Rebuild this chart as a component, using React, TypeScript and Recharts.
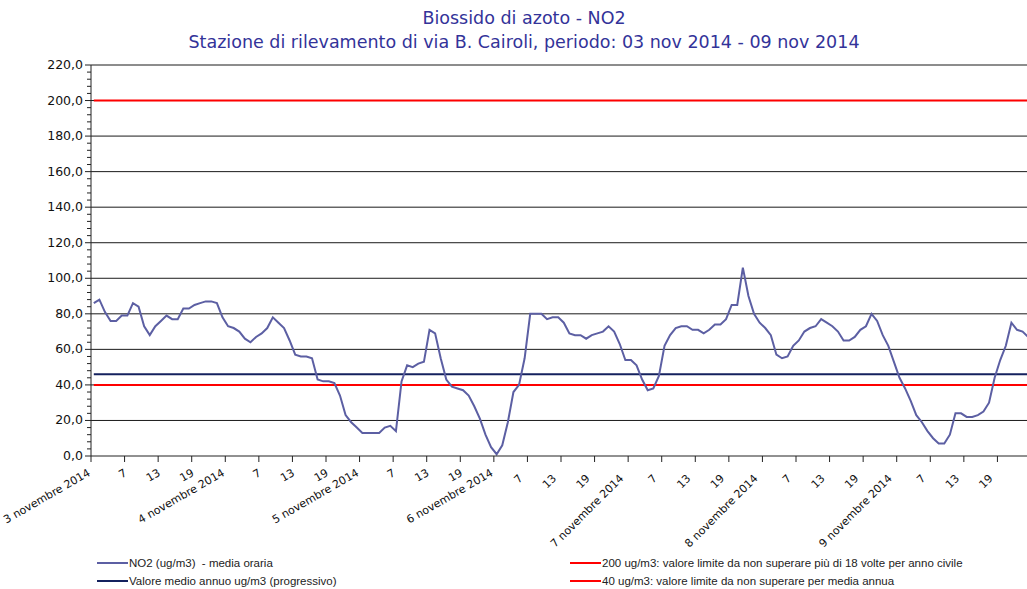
import { LineChart, Line, XAxis, YAxis, ReferenceLine } from "recharts";

const DAYS = [
  "3 novembre 2014",
  "4 novembre 2014",
  "5 novembre 2014",
  "6 novembre 2014",
  "7 novembre 2014",
  "8 novembre 2014",
  "9 novembre 2014",
];
const HOUR_LABELS = ["7", "13", "19"];

// NO2 hourly means (ug/m3), one array per day
const NO2_NOV3 = [86, 88, 81, 76, 76, 79, 79, 86, 84, 73, 68, 73, 76, 79, 77, 77, 83, 83, 85, 86, 87, 87, 86, 78];
const NO2_NOV4 = [73, 72, 70, 66, 64, 67, 69, 72, 78, 75, 72, 65, 57, 56, 56, 55, 43, 42, 42, 41, 34, 23, 19, 16];
const NO2_NOV5 = [13, 13, 13, 13, 16, 17, 14, 42, 51, 50, 52, 53, 71, 69, 55, 43, 39, 38, 37, 34, 28, 21, 12, 5];
const NO2_NOV6 = [1, 6, 19, 36, 40, 55, 80, 80, 80, 77, 78, 78, 75, 69, 68, 68, 66, 68, 69, 70, 73, 70, 63, 54];
const NO2_NOV7 = [54, 51, 43, 37, 38, 45, 62, 68, 72, 73, 73, 71, 71, 69, 71, 74, 74, 77, 85, 85, 106, 90, 80, 75];
const NO2_NOV8 = [72, 68, 57, 55, 56, 62, 65, 70, 72, 73, 77, 75, 73, 70, 65, 65, 67, 71, 73, 80, 76, 68, 62, 53];
const NO2_NOV9 = [44, 38, 31, 23, 19, 14, 10, 7, 7, 12, 24, 24, 22, 22, 23, 25, 30, 44, 54, 62, 75, 71, 70, 67];

const ANNUAL_MEAN = 46;
const LIMIT_HOURLY = 200;
const LIMIT_ANNUAL = 40;

const Y_MAJOR = [0, 20, 40, 60, 80, 100, 120, 140, 160, 180, 200, 220];

const NO2 = [...NO2_NOV3, ...NO2_NOV4, ...NO2_NOV5, ...NO2_NOV6, ...NO2_NOV7, ...NO2_NOV8, ...NO2_NOV9];
const data = NO2.map((v, i) => ({ t: i + 0.5, no2: v }));
const first = data[0].t;
const last = data[data.length - 1].t;

const xTicks = DAYS.flatMap((_, d) => [0, 6, 12, 18].map((h) => d * 24 + h));
const yTicks: number[] = [];
for (let v = 0; v <= 220; v += 4) yTicks.push(v);

const LINE_COLOR = "#5c5fa3";
const MEAN_COLOR = "#14215e";
const RED = "#ff0000";
const AXIS_FONT = "DejaVu Sans";

function xLabel(t: number) {
  const h = t % 24;
  return h === 0 ? DAYS[t / 24] : HOUR_LABELS[h / 6 - 1];
}

function XTick(props: any) {
  const { x, y, payload } = props;
  const t = payload.value;
  // the source image has the first half of labels flatter than the rest
  const flat = t < 75;
  const isDay = t % 24 === 0;
  const tx = x + (flat ? (isDay ? 0 : 3) : -4);
  const ty = y + (flat ? 19 : 23);
  return (
    <g>
      <line x1={x} x2={x} y1={y} y2={y + 6} stroke="#222" />
      <text
        x={tx}
        y={ty}
        transform={`rotate(${flat ? -30 : -45}, ${tx}, ${ty})`}
        textAnchor="end"
        fontSize={11}
        fontFamily={AXIS_FONT}
        fill="#111"
      >
        {xLabel(t)}
      </text>
    </g>
  );
}

function YTick(props: any) {
  const { x, y, payload } = props;
  const major = payload.value % 20 === 0;
  return (
    <g>
      <line x1={x - (major ? 6 : 4)} x2={x} y1={y} y2={y} stroke="#222" />
      {major && (
        <text x={x - 8} y={y + 4} textAnchor="end" fontSize={12.5} fontFamily={AXIS_FONT} fill="#111">
          {payload.value.toFixed(1).replace(".", ",")}
        </text>
      )}
    </g>
  );
}

const legendItems = [
  { left: 97, top: 556, color: LINE_COLOR, text: "NO2 (ug/m3)  - media oraria" },
  { left: 97, top: 574, color: MEAN_COLOR, text: "Valore medio annuo ug/m3 (progressivo)" },
  { left: 570, top: 556, color: RED, text: "200 ug/m3: valore limite da non superare più di 18 volte per anno civile" },
  { left: 570, top: 574, color: RED, text: "40 ug/m3: valore limite da non superare per media annua" },
];

export default function App() {
  return (
    <div
      style={{
        position: "absolute",
        left: 0,
        top: 0,
        width: 1027,
        height: 589,
        overflow: "hidden",
        background: "#fff",
      }}
    >
      <div
        style={{
          position: "absolute",
          left: 0,
          top: 6,
          width: 1048,
          textAlign: "center",
          fontFamily: "DejaVu Sans",
          fontSize: 17.5,
          lineHeight: "24px",
          color: "#333399",
        }}
      >
        <div>Biossido di azoto - NO2</div>
        <div>Stazione di rilevamento di via B. Cairoli, periodo: 03 nov 2014 - 09 nov 2014</div>
      </div>

      <LineChart width={1031} height={589} data={data} margin={{ top: 65, right: 0, bottom: 0, left: 0 }}>
        <XAxis
          dataKey="t"
          type="number"
          domain={[0, 168]}
          ticks={xTicks}
          interval={0}
          height={133}
          tickLine={false}
          tickSize={0}
          tickMargin={0}
          tick={<XTick />}
          axisLine={{ stroke: "#222" }}
        />
        <YAxis
          type="number"
          domain={[0, 220]}
          ticks={yTicks}
          interval={0}
          width={91}
          tickLine={false}
          tickSize={0}
          tickMargin={0}
          tick={<YTick />}
          axisLine={{ stroke: "#222" }}
        />
        {Y_MAJOR.filter((v) => v > 0).map((v) => (
          <ReferenceLine key={v} y={v} stroke="#1a1a1a" strokeWidth={1} />
        ))}
        <ReferenceLine
          segment={[
            { x: first, y: LIMIT_HOURLY },
            { x: last, y: LIMIT_HOURLY },
          ]}
          stroke={RED}
          strokeWidth={2}
        />
        <ReferenceLine
          segment={[
            { x: first, y: LIMIT_ANNUAL },
            { x: last, y: LIMIT_ANNUAL },
          ]}
          stroke={RED}
          strokeWidth={2}
        />
        <ReferenceLine
          segment={[
            { x: first, y: ANNUAL_MEAN },
            { x: last, y: ANNUAL_MEAN },
          ]}
          stroke={MEAN_COLOR}
          strokeWidth={2}
        />
        <Line
          dataKey="no2"
          stroke={LINE_COLOR}
          strokeWidth={2}
          dot={false}
          isAnimationActive={false}
          type="linear"
        />
      </LineChart>

      {legendItems.map((item) => (
        <div
          key={item.text}
          style={{
            position: "absolute",
            left: item.left,
            top: item.top,
            height: 14,
            display: "flex",
            alignItems: "center",
            fontFamily: "Liberation Sans",
            fontSize: 11.5,
            color: "#222",
            whiteSpace: "pre",
          }}
        >
          <span style={{ display: "inline-block", width: 31, height: 2, background: item.color, marginRight: 1 }} />
          <span>{item.text}</span>
        </div>
      ))}
    </div>
  );
}
